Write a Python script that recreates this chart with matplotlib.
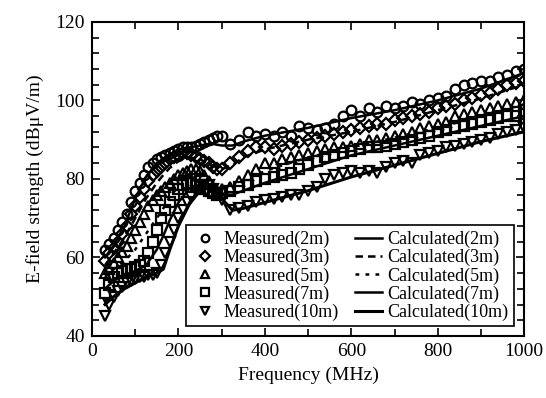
import numpy as np
import matplotlib
matplotlib.use("Agg")
import matplotlib.pyplot as plt
from matplotlib.ticker import MultipleLocator

plt.rcParams['font.family'] = ['Liberation Serif', 'DejaVu Serif']

# measured frequencies (MHz)
f_meas = [30, 40, 50, 60, 70, 80, 90, 100, 110, 120, 130, 140, 150, 160, 170, 180, 190,
          200, 210, 220, 230, 240, 250, 260, 270, 280, 290, 300,
          320, 340, 360, 380, 400, 420, 440, 460, 480, 500, 520, 540, 560, 580, 600,
          620, 640, 660, 680, 700, 720, 740, 760, 780, 800, 820, 840, 860, 880, 900,
          920, 940, 960, 980, 1000]

meas_2m = [62, 63.5, 65, 67, 69, 71, 74, 77, 79, 81, 83, 84, 85, 85.5, 86, 86.5, 87,
           87.5, 88, 88, 88, 88.5, 89, 89.5, 90, 90.5, 91, 91,
           89, 90, 92, 91, 91.5, 91, 92, 91, 93.5, 93, 92.5, 93, 94, 96, 97.5,
           96, 98, 97, 98.5, 98, 98.5, 99.5, 99, 100, 100.5, 101, 103, 104, 104.5, 105,
           105, 106, 106.5, 107.5, 108]

meas_3m = [59, 61, 62.5, 64, 66, 68, 71, 73, 75.5, 77.5, 79.5, 81, 82, 83, 84, 85, 85.5,
           86, 86.5, 86.5, 86, 85.5, 85, 84.5, 84, 83, 82.5, 82.5,
           84, 85.5, 87, 88, 88, 87.5, 88.5, 89, 89.5, 90, 90.5, 91, 91.5, 92, 92.5,
           93, 93.5, 94, 94, 95, 95.5, 96, 96.5, 97, 98, 98.5, 99, 100, 100.5, 101.5,
           102, 103, 104, 104.5, 105]

meas_5m = [56, 57, 58.5, 60, 61.5, 63, 65, 67, 69, 71, 73, 74.5, 76, 77, 78, 79, 80,
           81, 81.5, 82, 82.5, 82.5, 82, 81, 79.5, 78, 77, 77.5,
           78, 79.5, 81, 82.5, 84, 84, 85, 85.5, 86, 86.5, 87, 87.5, 88, 88, 88.5,
           89, 90, 90, 90.5, 91, 91.5, 92, 93, 93.5, 94, 94.5, 96, 96.5, 97, 97.5,
           98, 98.5, 99, 99.5, 100]

meas_7m = [51, 53, 55, 56, 56.5, 57, 57, 57.5, 58, 59, 61, 64, 67, 70, 72, 74, 76,
           77.5, 78.5, 79, 79, 78.5, 78, 77.5, 77, 76.5, 76, 76.5,
           77, 78, 78.5, 79.5, 80, 80.5, 81, 81.5, 82.5, 83.5, 84.5, 85.5, 86, 86.5, 87,
           87.5, 88, 88, 88.5, 89, 89.5, 90, 90.5, 91, 92, 92.5, 93, 93.5, 94, 94.5,
           95, 95.5, 96, 96, 96.5]

meas_10m = [45, 48, 50, 51.5, 52.5, 53.5, 54, 54.5, 55, 55, 55.5, 55.5, 56, 58, 61, 64, 67,
            70, 72, 74, 75.5, 77, 78, 78.5, 78.5, 77.5, 76, 74.5,
            72, 72.5, 73, 74, 74.5, 75, 75.5, 76, 76, 77, 78, 80, 81, 81.5, 82,
            81.5, 82, 81.5, 83, 84, 84.5, 84, 86, 86.5, 87, 88, 88.5, 89, 89.5, 90,
            90.5, 91.5, 92, 92.5, 93]

# calculated curves
f_calc = [30, 50, 75, 100, 125, 150, 165, 180, 200, 225, 250, 275, 300, 325, 350,
          400, 500, 600, 700, 800, 900, 1000]
calc_2m = [60, 63, 68, 75, 80.5, 84, 85.2, 86.2, 87.5, 88, 88.5, 89, 88.5, 88.5, 89.5,
           91, 93, 95.5, 97.5, 100, 103, 107]
calc_3m = [58, 61, 65, 70, 75, 79, 81, 82.8, 84.5, 85.5, 85, 83.5, 82.5, 83.5, 85.5,
           87.5, 90, 92, 94.5, 97.5, 100.5, 104]
calc_5m = [55, 57, 59, 62, 66, 70, 72.5, 75.5, 78, 80.5, 81, 79.5, 77.5, 78, 79.5,
           82, 85.5, 88, 90.5, 93, 96, 99]
calc_7m = [52, 54, 55.5, 56.5, 58, 62, 65.5, 69.5, 74, 77.5, 78.5, 77.5, 76, 76, 77,
           79, 82.5, 86, 88.5, 91, 93.5, 96]
calc_10m = [48, 50, 52, 53.5, 55, 56, 57, 62, 68, 73.5, 77, 78, 75, 72, 72.5,
            74, 77, 80.5, 83.5, 86.5, 89.5, 92]

fig = plt.figure(figsize=(5.46, 3.98), dpi=100)
ax = fig.add_axes([0.1685, 0.156, 0.7915, 0.789])

mk = dict(color='black', linestyle='none', markerfacecolor='none',
          markeredgecolor='black', markersize=7, markeredgewidth=1.6)
h1, = ax.plot(f_meas, meas_2m, marker='o', label='Measured(2m)', **mk)
h2, = ax.plot(f_meas, meas_3m, marker='D', label='Measured(3m)',
              **{**mk, 'markersize': 6})
h3, = ax.plot(f_meas, meas_5m, marker='^', label='Measured(5m)', **mk)
h4, = ax.plot(f_meas, meas_7m, marker='s', label='Measured(7m)',
              **{**mk, 'markersize': 6.5})
h5, = ax.plot(f_meas, meas_10m, marker='v', label='Measured(10m)', **mk)

c1, = ax.plot(f_calc, calc_2m, color='black', lw=1.8, ls='-', label='Calculated(2m)')
c2, = ax.plot(f_calc, calc_3m, color='black', lw=1.8, ls=(0, (3, 2)), label='Calculated(3m)')
c3, = ax.plot(f_calc, calc_5m, color='black', lw=1.8, ls=(0, (1.5, 2.5)), label='Calculated(5m)')
c4, = ax.plot(f_calc, calc_7m, color='black', lw=1.8, ls='-', label='Calculated(7m)')
c5, = ax.plot(f_calc, calc_10m, color='black', lw=2.2, ls='-', label='Calculated(10m)')

ax.set_xlim(0, 1000)
ax.set_ylim(40, 120)
ax.xaxis.set_major_locator(MultipleLocator(200))
ax.xaxis.set_minor_locator(MultipleLocator(100))
ax.yaxis.set_major_locator(MultipleLocator(20))
ax.yaxis.set_minor_locator(MultipleLocator(4))
ax.tick_params(which='both', direction='in', top=True, right=True, width=1.2,
               labelsize=14, pad=5)
ax.tick_params(which='major', length=6)
ax.tick_params(which='minor', length=5)
for s in ax.spines.values():
    s.set_linewidth(1.5)

ax.set_xlabel('Frequency (MHz)', fontsize=14, labelpad=5)
ax.set_ylabel('E-field strength (dBμV/m)', fontsize=14, labelpad=8)

leg = ax.legend(handles=[h1, h2, h3, h4, h5, c1, c2, c3, c4, c5], ncol=2,
                loc='lower right', bbox_to_anchor=(0.977, 0.03), borderaxespad=0,
                fontsize=13, frameon=True, fancybox=False, edgecolor='black',
                handlelength=1.5, handletextpad=0.3, columnspacing=0.9,
                labelspacing=0.05, borderpad=0.3, framealpha=1)
leg.get_frame().set_linewidth(1.2)
for h in leg.legend_handles[:5]:
    h.set_markersize(5.5)

fig.savefig('out.png', dpi=100)
